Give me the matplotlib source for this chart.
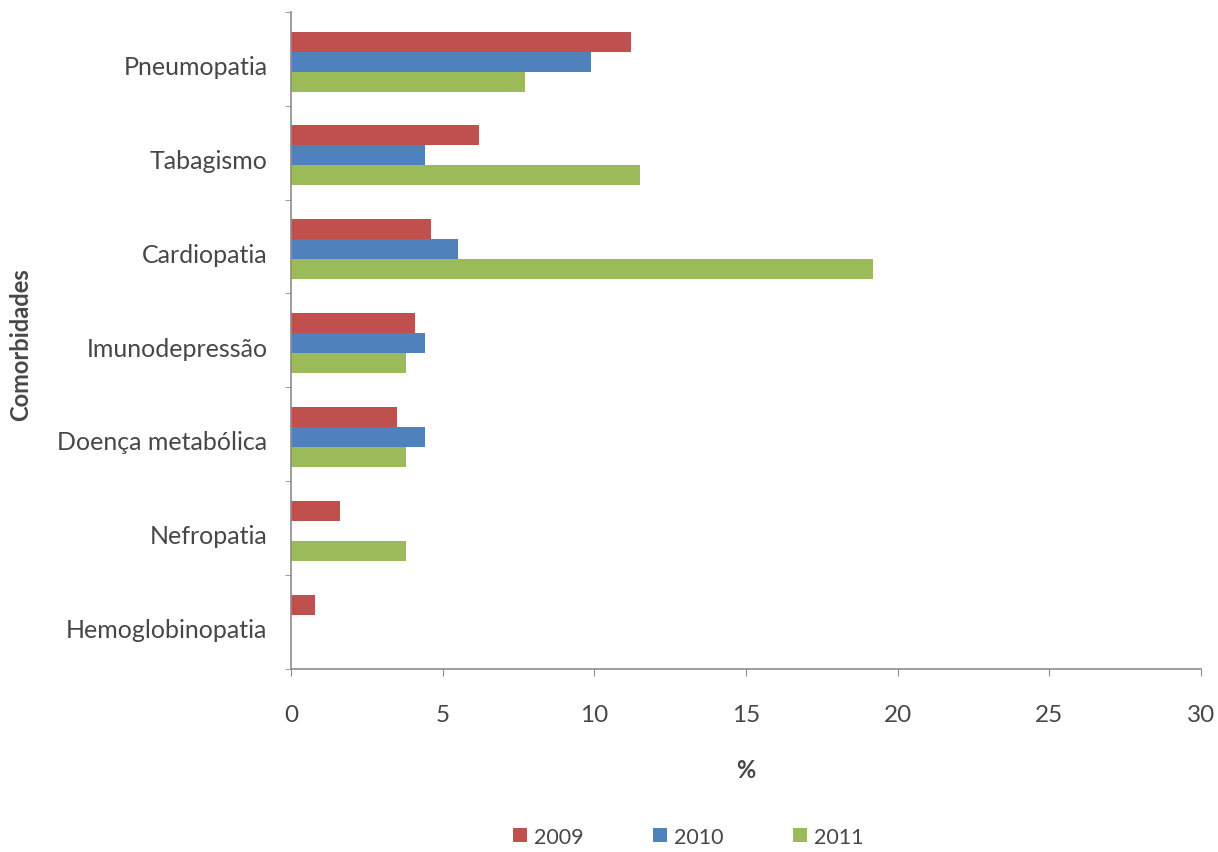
import matplotlib
matplotlib.use("Agg")
import matplotlib.pyplot as plt
import numpy as np

categories = ["Pneumopatia", "Tabagismo", "Cardiopatia", "Imunodepressão",
              "Doença metabólica", "Nefropatia", "Hemoglobinopatia"]
years = ["2009", "2010", "2011"]
v2009 = [11.2, 6.2, 4.6, 4.1, 3.5, 1.6, 0.8]
v2010 = [9.9, 4.4, 5.5, 4.4, 4.4, 0.0, 0.0]
v2011 = [7.7, 11.5, 19.2, 3.8, 3.8, 3.8, 0.0]
colors = ["#C0504D", "#4F81BD", "#9BBB59"]

plt.rcParams['font.family'] = ['Lato', 'DejaVu Sans']

fig = plt.figure(figsize=(12.18, 8.53), dpi=100)
ax = fig.add_axes([0.239, 0.2145, 0.747, 0.7705])

n = len(categories)
pos = np.arange(n)
h = 0.213
for i, (vals, col, lab) in enumerate(zip([v2009, v2010, v2011], colors, years)):
    ax.barh(pos + (i - 1) * h + 0.03, vals, height=h, color=col, label=lab)

ax.set_ylim(n - 0.5, -0.5)
ax.set_xlim(0, 30)
ax.set_xticks(range(0, 31, 5))
ax.set_yticks(pos + 0.06)
ax.set_yticklabels(categories)
ax.set_yticks(np.arange(-0.5, n, 1.0), minor=True)

grey = "#8c8c8c"
txt = "#474747"
for s in ["top", "right"]:
    ax.spines[s].set_visible(False)
ax.spines["left"].set_color(grey)
ax.spines["bottom"].set_color(grey)
ax.spines["left"].set_linewidth(1.2)
ax.spines["bottom"].set_linewidth(1.2)
ax.tick_params(axis="y", which="major", length=0, pad=17, labelsize=18, labelcolor=txt)
ax.tick_params(axis="y", which="minor", length=4, color=grey, direction="out")
ax.tick_params(axis="x", length=5, color=grey, direction="out", pad=20, labelsize=17.5, labelcolor=txt)

ax.set_xlabel("%", fontsize=17, fontweight="bold", color=txt, labelpad=24)
fig.text(0.017, 0.596, "Comorbidades", rotation=90, fontsize=17, fontweight="bold",
         color=txt, ha="center", va="center")

fig.legend(loc="center", bbox_to_anchor=(0.565, 0.018), ncol=3, frameon=False,
           fontsize=15.5, handlelength=0.65, handleheight=0.65, columnspacing=3.2,
           handletextpad=0.35, labelcolor=txt)

fig.savefig("out.png", dpi=100)
